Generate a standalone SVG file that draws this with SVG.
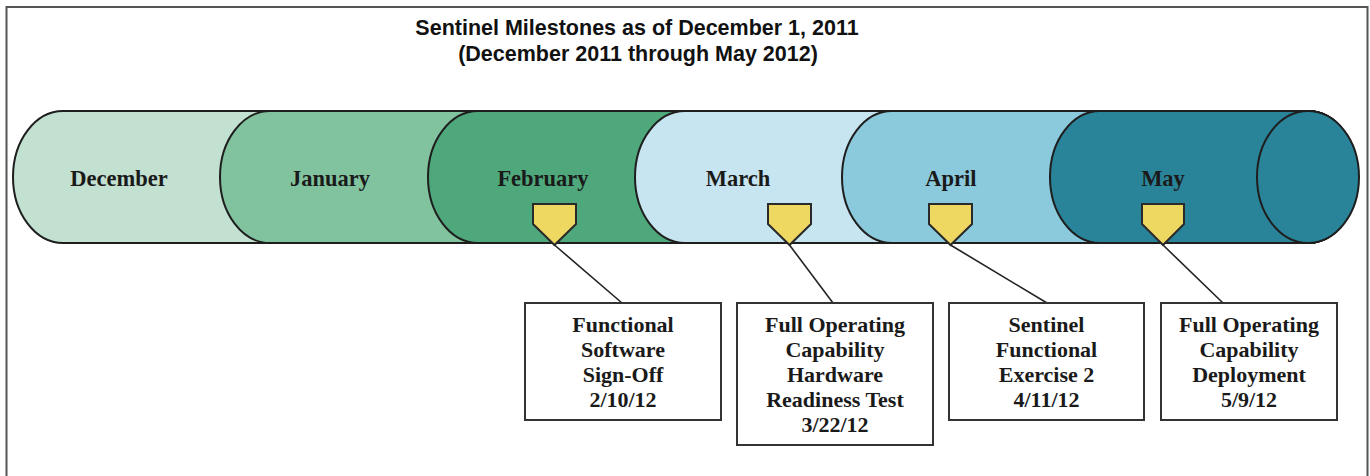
<svg xmlns="http://www.w3.org/2000/svg" width="1370" height="476" viewBox="0 0 1370 476">
  <style>
    .title { font-family: "Liberation Sans", Arial, sans-serif; font-weight: bold; font-size: 21.5px; fill: #111; text-anchor: middle; }
    .month { font-family: "Liberation Serif", "Times New Roman", serif; font-weight: bold; font-size: 22.5px; fill: #1a1a1a; text-anchor: middle; }
    .seg { stroke: #1e1e1e; stroke-width: 2; }
    .marker { fill: #efd862; stroke: #2a2a2a; stroke-width: 2; stroke-linejoin: miter; }
    .box { fill: #ffffff; stroke: #333; stroke-width: 2; }
    .btext { font-family: "Liberation Serif", "Times New Roman", serif; font-weight: bold; font-size: 22px; fill: #1a1a1a; text-anchor: middle; }
    .conn { stroke: #222; stroke-width: 1.6; fill: none; }
  </style>
  <rect x="0" y="0" width="1370" height="476" fill="#ffffff"/>
  <path d="M6.5,480 V7 H1367.5 V480" fill="none" stroke="#555" stroke-width="2"/>

  <g id="title">
    <text class="title" x="637" y="35">Sentinel Milestones as of December 1, 2011</text>
    <text class="title" x="638" y="61">(December 2011 through May 2012)</text>
  </g>

  <g id="december">
    <path class="seg" fill="#c3e1d1" d="M63,111 A50,66 0 0 0 63,243 H1307 A51,66 0 0 0 1307,111 Z"/>
    <text class="month" x="119" y="186">December</text>
  </g>
  <g id="january">
    <path class="seg" fill="#82c39f" d="M270,111 A50,66 0 0 0 270,243 H1307 A51,66 0 0 0 1307,111 Z"/>
    <text class="month" x="330" y="186">January</text>
  </g>
  <g id="february">
    <path class="seg" fill="#4ea87b" d="M478,111 A50,66 0 0 0 478,243 H1307 A51,66 0 0 0 1307,111 Z"/>
    <text class="month" x="543" y="186">February</text>
  </g>
  <g id="march">
    <path class="seg" fill="#c7e5f0" d="M685,111 A50,66 0 0 0 685,243 H1307 A51,66 0 0 0 1307,111 Z"/>
    <text class="month" x="738" y="186">March</text>
  </g>
  <g id="april">
    <path class="seg" fill="#8bcadc" d="M892,111 A50,66 0 0 0 892,243 H1307 A51,66 0 0 0 1307,111 Z"/>
    <text class="month" x="951" y="186">April</text>
  </g>
  <g id="may">
    <path class="seg" fill="#2a8499" d="M1100,111 A50,66 0 0 0 1100,243 H1307 A51,66 0 0 0 1307,111 Z"/>
    <ellipse class="seg" fill="#2a8499" cx="1308" cy="177" rx="51" ry="66"/>
    <text class="month" x="1163" y="186">May</text>
  </g>

  <g id="connectors">
    <line class="conn" x1="554.5" y1="245" x2="622" y2="303"/>
    <line class="conn" x1="789.5" y1="245" x2="833" y2="303"/>
    <line class="conn" x1="950.5" y1="245" x2="1047" y2="303"/>
    <line class="conn" x1="1163" y1="245" x2="1223" y2="303"/>
  </g>

  <g id="marker-feb"><polygon class="marker" points="533,204 576,204 576,224 554.5,245 533,224"/></g>
  <g id="marker-mar"><polygon class="marker" points="768,204 811,204 811,224 789.5,245 768,224"/></g>
  <g id="marker-apr"><polygon class="marker" points="929,204 972,204 972,224 950.5,245 929,224"/></g>
  <g id="marker-may"><polygon class="marker" points="1142,204 1184,204 1184,224 1163,245 1142,224"/></g>

  <g id="box-software-signoff">
    <rect class="box" x="525" y="303" width="196" height="117"/>
    <text class="btext" x="623" y="332">Functional</text>
    <text class="btext" x="623" y="357">Software</text>
    <text class="btext" x="623" y="382">Sign-Off</text>
    <text class="btext" x="623" y="407">2/10/12</text>
  </g>
  <g id="box-hardware-test">
    <rect class="box" x="737" y="303" width="196" height="142"/>
    <text class="btext" x="835" y="332">Full Operating</text>
    <text class="btext" x="835" y="357">Capability</text>
    <text class="btext" x="835" y="382">Hardware</text>
    <text class="btext" x="835" y="407">Readiness Test</text>
    <text class="btext" x="835" y="432">3/22/12</text>
  </g>
  <g id="box-exercise-2">
    <rect class="box" x="949" y="303" width="195" height="117"/>
    <text class="btext" x="1046.5" y="332">Sentinel</text>
    <text class="btext" x="1046.5" y="357">Functional</text>
    <text class="btext" x="1046.5" y="382">Exercise 2</text>
    <text class="btext" x="1046.5" y="407">4/11/12</text>
  </g>
  <g id="box-deployment">
    <rect class="box" x="1161" y="303" width="176" height="117"/>
    <text class="btext" x="1249" y="332">Full Operating</text>
    <text class="btext" x="1249" y="357">Capability</text>
    <text class="btext" x="1249" y="382">Deployment</text>
    <text class="btext" x="1249" y="407">5/9/12</text>
  </g>
</svg>
